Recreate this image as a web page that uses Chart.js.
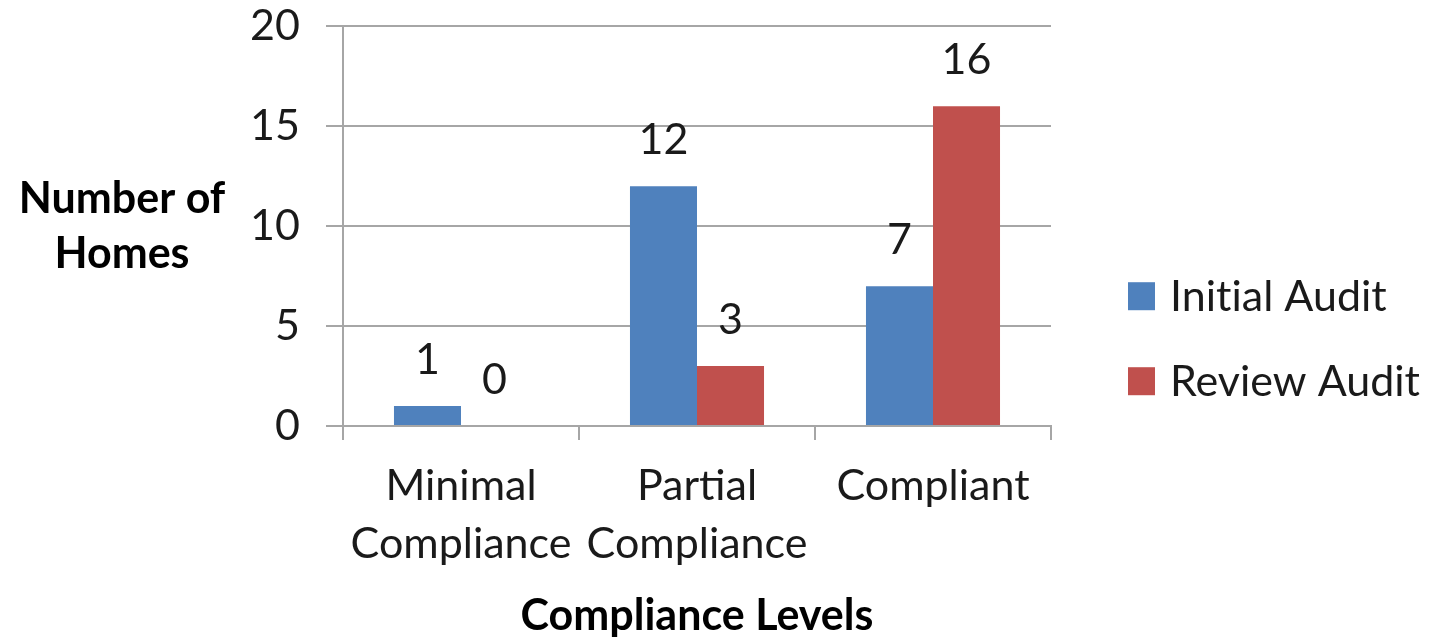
<!DOCTYPE html>
<html>
<head>
<meta charset="utf-8">
<script src="https://cdn.jsdelivr.net/npm/chart.js@4"></script>
<style>
  html, body { margin: 0; padding: 0; background: #ffffff; }
  #wrap { width: 1434px; height: 641px; }
</style>
</head>
<body>
<div id="wrap"><canvas id="chart" width="1434" height="641"></canvas></div>
<script>
// Compliance audit results: homes per compliance level
const categories = [["Minimal", "Compliance"], ["Partial", "Compliance"], ["Compliant"]];
const initialAudit = [1, 12, 7];
const reviewAudit = [0, 3, 16];
const seriesNames = ["Initial Audit", "Review Audit"];
const yAxisTitle = ["Number of", "Homes"];
const xAxisTitle = "Compliance Levels";
const yMin = 0;
const yMax = 20;
const yStep = 5;

const FONT = "Lato, 'Open Sans', sans-serif";
const COLORS = ["#4F81BD", "#C0504D"];
const GRID = "#A6A6A6";

// Value labels above each bar
const valueLabels = {
  id: "valueLabels",
  afterDatasetsDraw(chart) {
    const ctx = chart.ctx;
    ctx.save();
    ctx.font = "43px " + FONT;
    ctx.fillStyle = "#1a1a1a";
    ctx.textAlign = "center";
    ctx.textBaseline = "alphabetic";
    chart.data.datasets.forEach((ds, i) => {
      const meta = chart.getDatasetMeta(i);
      meta.data.forEach((bar, j) => {
        ctx.fillText(String(ds.data[j]), bar.x, bar.y - 32);
      });
    });
    ctx.restore();
  }
};

// Horizontal y-axis title and side legend
const sideText = {
  id: "sideText",
  afterDraw(chart) {
    const ctx = chart.ctx;
    const area = chart.chartArea;
    ctx.save();
    // y-axis title, two centred lines
    ctx.font = "bold 43px " + FONT;
    ctx.fillStyle = "#000000";
    ctx.textAlign = "center";
    ctx.textBaseline = "alphabetic";
    const midY = (area.top + area.bottom) / 2;
    ctx.fillText(yAxisTitle[0], 122, midY - 13);
    ctx.fillText(yAxisTitle[1], 122, midY + 42);

    // legend
    ctx.font = "43px " + FONT;
    ctx.textAlign = "left";
    if ("letterSpacing" in ctx) ctx.letterSpacing = "0.01px";
    const rows = [midY + 85, midY + 170];
    chart.data.datasets.forEach((ds, i) => {
      const base = rows[i];
      ctx.fillStyle = ds.backgroundColor;
      ctx.fillRect(area.right + 77, base - 29, 27, 28);
      ctx.fillStyle = "#1a1a1a";
      ctx.fillText(ds.label, area.right + 119, base);
    });
    ctx.restore();
  }
};

new Chart(document.getElementById("chart"), {
  type: "bar",
  data: {
    labels: categories,
    datasets: [
      { label: seriesNames[0], data: initialAudit, backgroundColor: COLORS[0] },
      { label: seriesNames[1], data: reviewAudit, backgroundColor: COLORS[1] }
    ]
  },
  options: {
    responsive: false,
    animation: false,
    devicePixelRatio: 1,
    layout: { padding: { left: 0, top: 0, right: 383, bottom: 0 } },
    datasets: {
      bar: { categoryPercentage: 0.568, barPercentage: 1.0, borderWidth: 0 }
    },
    plugins: {
      legend: { display: false },
      tooltip: { enabled: false }
    },
    scales: {
      x: {
        afterFit(scale) { scale.height = 215; },
        grid: {
          display: true,
          drawOnChartArea: false,
          drawTicks: true,
          tickLength: 14,
          color: GRID,
          lineWidth: 2,
          offset: true
        },
        border: { display: true, color: GRID, width: 2 },
        ticks: {
          color: "#1a1a1a",
          font: { family: FONT, size: 43, lineHeight: 1.33 },
          padding: 18,
          maxRotation: 0,
          autoSkip: false
        },
        title: {
          display: true,
          text: xAxisTitle,
          color: "#000000",
          font: { family: FONT, size: 43, weight: "bold", lineHeight: 1 },
          padding: { top: 0, bottom: 3 }
        }
      },
      y: {
        min: yMin,
        max: yMax,
        afterFit(scale) { scale.width = 343; },
        grid: {
          color: GRID,
          lineWidth: 2,
          drawTicks: true,
          tickLength: 17
        },
        border: { display: true, color: GRID, width: 2 },
        ticks: {
          stepSize: yStep,
          color: "#1a1a1a",
          font: { family: FONT, size: 43, lineHeight: 0.02 },
          padding: 26
        }
      }
    }
  },
  plugins: [valueLabels, sideText]
});
</script>
</body>
</html>
